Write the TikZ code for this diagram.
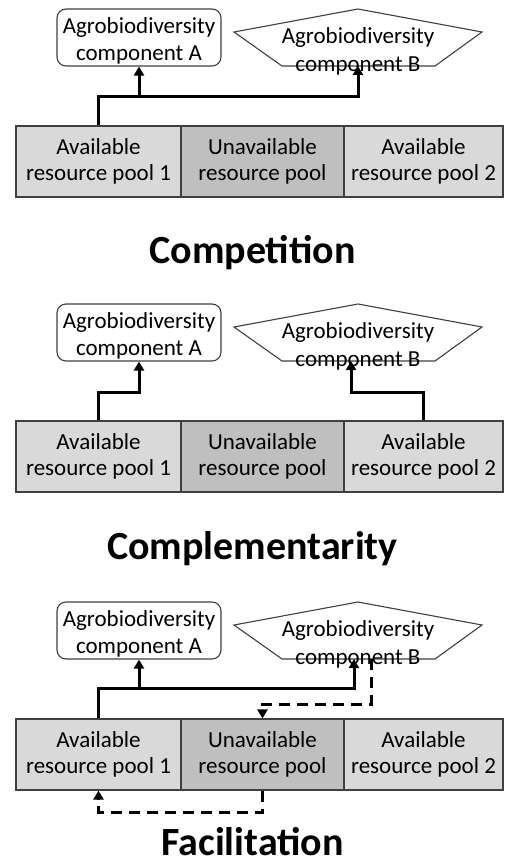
\documentclass[tikz,border=0pt]{standalone}
\usepackage{fontspec}
\setmainfont{Carlito}
\usetikzlibrary{arrows.meta,calc}

\definecolor{poolfree}{HTML}{D9D9D9}
\definecolor{poolnone}{HTML}{BFBFBF}
\definecolor{edge}{HTML}{404040}

\tikzset{
  lbl/.style={font=\fontsize{23}{26.5}\selectfont, align=center, inner sep=0pt},
  compA/.style={lbl, draw=edge, line width=1.1pt, rounded corners=9pt, fill=white,
    minimum width=164pt, minimum height=57pt},
  pentB/.style={draw=edge, line width=1.1pt, fill=white},
  pool/.style={lbl, draw=edge, line width=1.1pt, minimum height=71pt},
  flow/.style={line width=3pt, -{Triangle[width=10pt,length=9pt]}},
  help/.style={flow, dash pattern=on 11pt off 7pt},
  title/.style={font=\fontsize{40}{46}\selectfont\bfseries, inner sep=0pt, anchor=base}
}

\begin{document}
\begin{tikzpicture}[x=1pt, y=-1pt]
\useasboundingbox (0,0) rectangle (505,864);

% three identical panels, shifted down the page
\foreach \k/\off in {1/0, 2/295, 3/593} {
  \begin{scope}[yshift=-\off pt]
    % component B outline (pentagon)
    \draw[pentB] (234,32) -- (358,9) -- (482,32) -- (435,66) -- (282,66) -- cycle;
    \node[lbl, font=\fontsize{23}{28}\selectfont] (B\k) at (358,51) {Agrobiodiversity\\component B};
    % the strut drops the label a little inside the rounded box
    \node[compA] (A\k) at (139,37.5) {\rule{0pt}{23pt}Agrobiodiversity\\component A};
    % resource pools
    \node[pool, fill=poolfree, minimum width=165pt] (p1\k) at (98.5,161.5) {Available\\resource pool 1};
    \node[pool, fill=poolnone, minimum width=163pt] (p0\k) at (262.5,161.5) {Unavailable\\resource pool};
    \node[pool, fill=poolfree, minimum width=159pt] (p2\k) at (423.5,161.5) {Available\\resource pool 2};
  \end{scope}
}

% attachment points on the lower edge of component B
\coordinate (Bb1) at (358,66);
\coordinate (Bb2) at (351,361);
\coordinate (Bb3) at (354,659);
\coordinate (Bd3) at (371,659);

% titles
\node[title] (t1) at (252.5,263) {Competition};
\node[title] (t2) at (252.5,559) {Complementarity};
\node[title] (t3) at (252.5,855) {Facilitation};

% Competition: both components draw on pool 1
\draw[flow] (p11.north) |- (Bb1 |- 0,97) -- (Bb1);
\draw[flow] (A1.south |- 0,97) -- (A1.south);

% Complementarity: each component uses its own pool
\draw[flow] (p12.north) |- (A2.south |- 0,392) -- (A2.south);
\draw[flow] (p22.north) |- (Bb2 |- 0,392) -- (Bb2);

% Facilitation: B makes the unavailable pool accessible
\draw[flow] (p13.north) |- (Bb3 |- 0,688) -- (Bb3);
\draw[flow] (A3.south |- 0,688) -- (A3.south);
\draw[help] (Bd3) |- (p03.north |- 0,704) -- (p03.north);
\draw[help] (p03.south) |- (p13.south |- 0,812) -- (p13.south);
\end{tikzpicture}
\end{document}
